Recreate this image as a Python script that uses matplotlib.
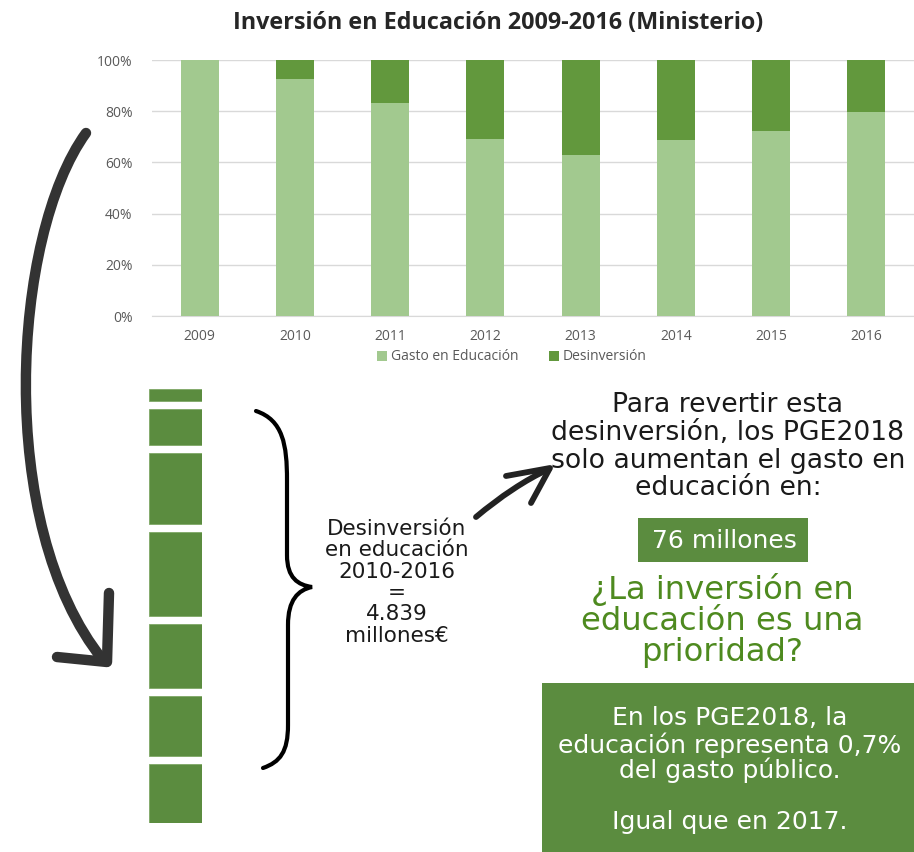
import matplotlib
matplotlib.use("Agg")
import matplotlib.pyplot as plt
from matplotlib.path import Path
from matplotlib.patches import PathPatch, Rectangle
from matplotlib.ticker import PercentFormatter

# ---------------- data ----------------
years = ["2009", "2010", "2011", "2012", "2013", "2014", "2015", "2016"]
gasto_pct = [100.0, 92.4, 83.3, 69.3, 62.9, 68.8, 72.4, 79.8]
desinv_pct = [round(100.0 - g, 1) for g in gasto_pct]
y_ticks = [0, 20, 40, 60, 80, 100]
series_labels = ["Gasto en Educación", "Desinversión"]

block_years = ["2010", "2011", "2012", "2013", "2014", "2015", "2016"]
desinv_millones = [155, 442, 893, 1057, 800, 754, 738]   # sums to 4.839

title = "Inversión en Educación 2009-2016 (Ministerio)"
left_lines = ["Desinversión", "en educación", "2010-2016", "=", "4.839", "millones€"]
right_lines = ["Para revertir esta", "desinversión, los PGE2018",
               "solo aumentan el gasto en", "educación en:"]
box1_text = "76 millones"
question_lines = ["¿La inversión en", "educación es una", "prioridad?"]
box2_lines = ["En los PGE2018, la", "educación representa 0,7%",
              "del gasto público.", "", "Igual que en 2017."]

# ---------------- style ----------------
LIGHT = "#A2C98F"
DARK = "#62983D"
BLOCK = "#5B8C3F"
QGREEN = "#4E8A1F"
ARROW = "#333333"
CHART_FONT = "Open Sans"
TEXT_FONT = "DejaVu Sans"

W, H = 914, 852
fig = plt.figure(figsize=(W / 100, H / 100), dpi=100)
fig.patch.set_facecolor("white")

deco = fig.add_axes([0, 0, 1, 1])
deco.set_xlim(0, W)
deco.set_ylim(H, 0)
deco.axis("off")

# ---------------- stacked 100% bar chart ----------------
ax = fig.add_axes([152 / W, 1 - 316 / H, 762 / W, 256 / H])
ax.patch.set_alpha(0)
x = range(len(years))
ax.bar(x, gasto_pct, width=0.4, color=LIGHT, label=series_labels[0], zorder=3)
ax.bar(x, desinv_pct, width=0.4, bottom=gasto_pct, color=DARK,
       label=series_labels[1], zorder=3)
ax.set_xlim(-0.5, len(years) - 0.5)
ax.set_ylim(0, 100)
ax.set_yticks(y_ticks)
ax.yaxis.set_major_formatter(PercentFormatter(decimals=0))
ax.set_xticks(list(x))
ax.set_xticklabels(years)
ax.grid(axis="y", color="#D9D9D9", linewidth=1, zorder=0)
for s in ["top", "right", "left"]:
    ax.spines[s].set_visible(False)
ax.spines["bottom"].set_color("#D9D9D9")
ax.tick_params(length=0, colors="#595959", labelsize=10)
ax.tick_params(axis="x", pad=9)
ax.tick_params(axis="y", pad=14)
for lab in ax.get_xticklabels() + ax.get_yticklabels():
    lab.set_fontfamily(CHART_FONT)

handles, labels = ax.get_legend_handles_labels()
fig.legend(handles, labels, loc="center", bbox_to_anchor=(512 / W, 1 - 357 / H),
           ncol=2, frameon=False, handlelength=0.7, handleheight=0.7,
           handletextpad=0.3, columnspacing=2.2,
           prop={"family": CHART_FONT, "size": 10}, labelcolor="#595959")

t_title = deco.text(498, 23, title, ha="center", va="center", fontsize=14,
                    fontweight="bold", family=CHART_FONT, color="#262626")

# ---------------- blocks of desinversión ----------------
bx = fig.add_axes([149 / W, 1 - 823 / H, 53 / W, 434 / H])
bx.axis("off")
gap = 100
start = 0
for v in desinv_millones:
    bx.bar(0, v, bottom=start, width=1.0, color=BLOCK, edgecolor="#7FA866",
           linewidth=0.6)
    start += v + gap
bx.set_xlim(-0.5, 0.5)
bx.set_ylim(start - gap, 0)

# ---------------- big curved arrow ----------------
big = Path([(86, 133), (12, 235), (-6, 525), (103, 660)],
           [Path.MOVETO, Path.CURVE4, Path.CURVE4, Path.CURVE4])
deco.add_patch(PathPatch(big, fill=False, edgecolor=ARROW, linewidth=7.5,
                         capstyle="round", joinstyle="round"))
deco.plot([57, 107, 109], [657, 662, 593], color=ARROW, linewidth=7.5,
          solid_capstyle="round", solid_joinstyle="round")

# ---------------- brace ----------------
brace = Path([(256, 411), (283, 420), (287, 445), (287, 480),
              (287, 555),
              (287, 578), (298, 585), (312, 587),
              (298, 590), (288, 600), (288, 625),
              (288, 725),
              (288, 752), (280, 762), (263, 768)],
             [Path.MOVETO, Path.CURVE4, Path.CURVE4, Path.CURVE4,
              Path.LINETO,
              Path.CURVE4, Path.CURVE4, Path.CURVE4,
              Path.CURVE4, Path.CURVE4, Path.CURVE4,
              Path.LINETO,
              Path.CURVE4, Path.CURVE4, Path.CURVE4])
deco.add_patch(PathPatch(brace, fill=False, edgecolor="black", linewidth=3.0,
                         capstyle="round"))

# ---------------- small arrow ----------------
small = Path([(476, 517), (500, 497), (525, 480), (549, 469)],
             [Path.MOVETO, Path.CURVE4, Path.CURVE4, Path.CURVE4])
deco.add_patch(PathPatch(small, fill=False, edgecolor="#222222", linewidth=4.2,
                         capstyle="round"))
deco.plot([506, 550, 531], [476, 468, 503], color="#222222", linewidth=4.2,
          solid_capstyle="round", solid_joinstyle="round")

# ---------------- boxes ----------------
deco.add_patch(Rectangle((638, 518), 170, 44, facecolor=BLOCK, edgecolor="none"))
deco.add_patch(Rectangle((542, 683), W - 542, H - 683, facecolor=BLOCK,
                         edgecolor="none"))

# ---------------- texts ----------------
renderer = fig.canvas.get_renderer()


def text_block(lines, xc, ys, ref_idx, ref_width, color, base=12):
    ts = [deco.text(xc, y, s, ha="center", va="center", fontsize=base,
                    family=TEXT_FONT, color=color) for s, y in zip(lines, ys)]
    w = ts[ref_idx].get_window_extent(renderer).width
    size = base * ref_width / w
    for t in ts:
        t.set_fontsize(size)
    return ts


text_block(left_lines, 397, [529, 550, 572, 593, 614, 636], 1, 143, "#1a1a1a")
text_block(right_lines, 728, [405, 433, 461, 488], 1, 352, "#1a1a1a")
text_block([box1_text], 724, [541], 0, 144, "white")
text_block(question_lines, 722, [589, 621, 652], 1, 282, QGREEN)
text_block(box2_lines, 730, [718, 745, 770, 796, 822], 1, 341, "white")

w = t_title.get_window_extent(renderer).width
t_title.set_fontsize(14 * 533 / w)

fig.savefig("out.png", dpi=100, facecolor="white")
